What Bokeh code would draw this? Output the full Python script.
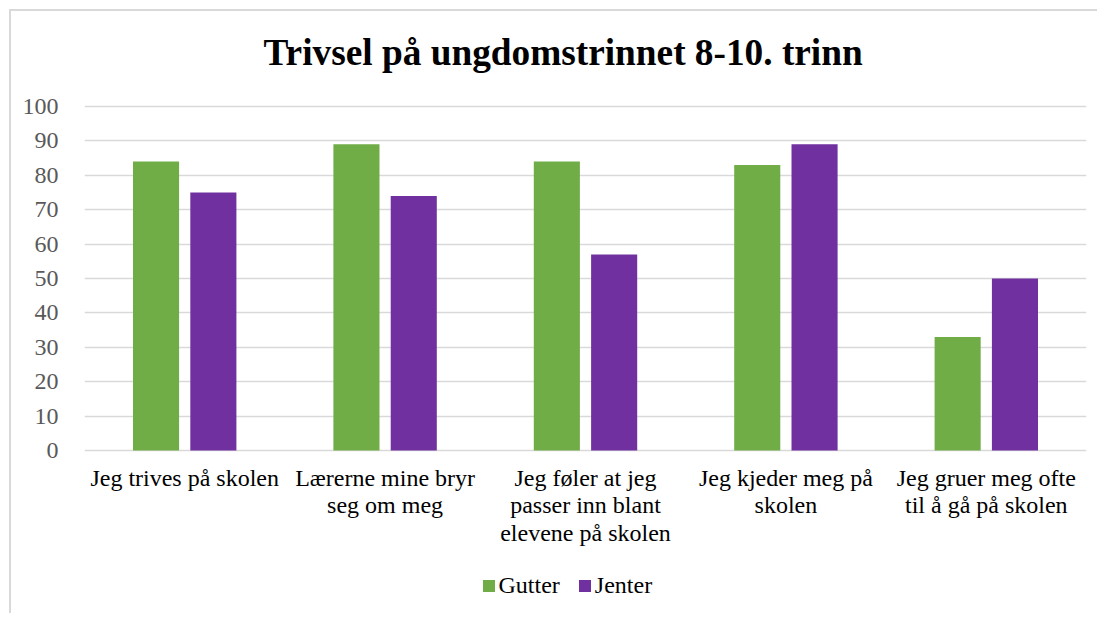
from bokeh.plotting import figure
from bokeh.models import FactorRange, Range1d, FixedTicker, Legend, LegendItem, ColumnDataSource, Label
from bokeh.core.properties import value
from bokeh.transform import dodge
from bokeh.embed import file_html
from bokeh.resources import INLINE

categories = [
    "Jeg trives på skolen",
    "Lærerne mine bryr\nseg om meg",
    "Jeg føler at jeg\npasser inn blant\nelevene på skolen",
    "Jeg kjeder meg på\nskolen",
    "Jeg gruer meg ofte\ntil å gå på skolen",
]
gutter = [84, 89, 84, 83, 33]
jenter = [75, 74, 57, 89, 50]
series = ["Gutter", "Jenter"]
colors = ["#70AD47", "#7030A0"]
y_ticks = list(range(0, 101, 10))
title_text = "Trivsel på ungdomstrinnet 8-10. trinn"

FONT = "Liberation Serif"

# frame: 604 px tall; value 0 sits 165 px above its bottom, 100 sits 95 px below its top
PX_PER_UNIT = 3.44
Y_START = -165 / PX_PER_UNIT
Y_END = 100 + 95 / PX_PER_UNIT

src = ColumnDataSource(dict(cat=categories, gutter=gutter, jenter=jenter))

p = figure(
    x_range=FactorRange(*categories),
    y_range=Range1d(Y_START, Y_END),
    width=1088, height=604,
    output_backend="svg", toolbar_location=None,
    min_border_left=73, min_border_right=13, min_border_top=0, min_border_bottom=0,
    styles={"margin-left": "9px", "margin-top": "9px",
            "border-left": "2px solid #d9d9d9", "border-top": "2px solid #d9d9d9"},
)
p.outline_line_color = None
p.background_fill_color = "white"
p.border_fill_color = "white"

p.xgrid.visible = False
p.ygrid.grid_line_color = "#d9d9d9"
p.ygrid.grid_line_width = 1.5
p.xaxis.visible = False

p.yaxis.ticker = FixedTicker(ticks=y_ticks)
p.yaxis.axis_line_color = None
p.yaxis.major_tick_line_color = None
p.yaxis.minor_tick_line_color = None
p.yaxis.major_label_text_font = FONT
p.yaxis.major_label_text_font_size = "24px"
p.yaxis.major_label_text_color = "#595959"
p.yaxis.major_label_standoff = 20

r1 = p.vbar(x=dodge("cat", -0.143, range=p.x_range), top="gutter", width=0.23,
            source=src, fill_color=colors[0], line_color=None)
r2 = p.vbar(x=dodge("cat", 0.143, range=p.x_range), top="jenter", width=0.23,
            source=src, fill_color=colors[1], line_color=None)

# category labels under the zero line
p.text(x="cat", y=-4.2, text="cat", source=src,
       text_font=value(FONT), text_font_size="24px", text_color="#000000",
       text_align="center", text_baseline="top", text_line_height=1.06)

# chart title
p.add_layout(Label(x=179, y=563, x_units="screen", y_units="screen", text=title_text,
                   text_font=FONT, text_font_size="37.3px", text_font_style="bold",
                   text_color="#000000", text_align="left", text_baseline="alphabetic"))

legend = Legend(
    items=[LegendItem(label=series[0], renderers=[r1]),
           LegendItem(label=series[1], renderers=[r2])],
    orientation="horizontal", location=(396.5, 16),
    border_line_color=None, background_fill_alpha=0,
    padding=0, margin=0, spacing=17,
    glyph_width=15, glyph_height=15, label_standoff=3,
    label_text_font=FONT, label_text_font_size="24px", label_text_color="#000000",
)
p.add_layout(legend, "center")

open("out.html", "w").write(file_html(p, INLINE))
